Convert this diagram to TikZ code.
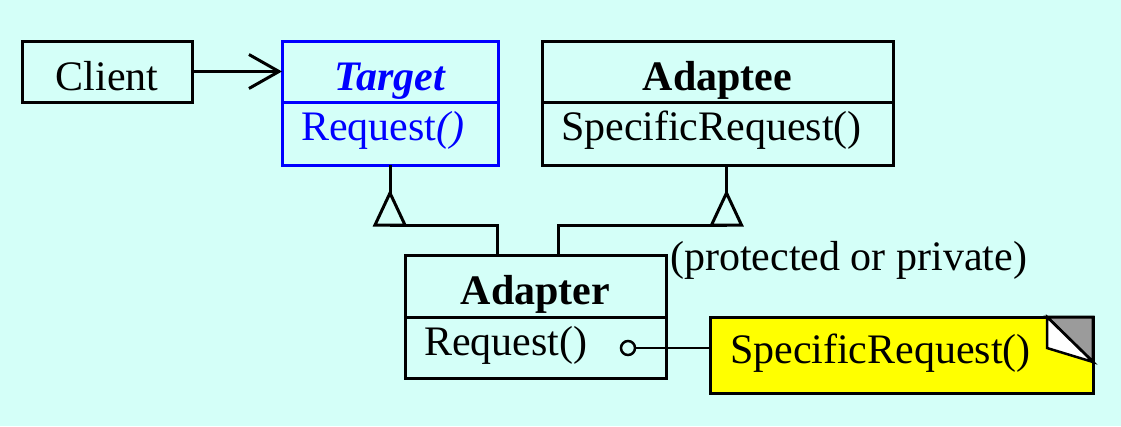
\documentclass[tikz,border=0pt]{standalone}
\usepackage{fontspec}
\setmainfont{Liberation Serif}
\usetikzlibrary{positioning, arrows.meta}
\definecolor{bgCol}{RGB}{212, 255, 248}
\definecolor{noteCol}{RGB}{255, 255, 0}
\definecolor{foldCol}{RGB}{155, 155, 155}
\tikzset{myBox/.style={draw, line width=3pt, inner sep=0pt, outer sep=0pt, font=\fontsize{42}{50}\selectfont}}
\tikzset{myClassName/.style={myBox, text height=49pt, text depth=12pt}}
\tikzset{myClassOp/.style={myBox, text height=38pt, text depth=25pt, inner xsep=19pt, align=left}}
\tikzset{myLink/.style={line width=3pt, color=black}}

\begin{document}
\begin{tikzpicture}[x=1pt, y=-1pt]
		\useasboundingbox (0,0) rectangle (1121,426);
		\fill[bgCol] (0,0) rectangle (1121,426);
		% classes
		\node[myClassName, minimum width=170pt] (client) at (107,71.5) {Client};
		\node[myClassName, blue, minimum width=216pt] (target) at (390,71.5) {\textbf{\textit{Target}}};
		\node[myClassOp, blue, text width=178pt, below=0pt of target] (targetOp) {Request\textit{()}};
		\node[myClassName, minimum width=351pt] (adaptee) at (717.5,71.5) {\textbf{Adaptee}};
		\node[myClassOp, text width=313pt, below=0pt of adaptee] (adapteeOp) {SpecificRequest()};
		\node[myClassName, text depth=13pt, minimum width=261pt] (adapter) at (535.5,286) {\textbf{Adapter}};
		\node[myClassOp, text depth=23pt, text width=223pt, below=0pt of adapter] (adapterOp) {Request()};
		\node[anchor=base west, inner sep=0pt, font=\fontsize{42}{50}\selectfont] (access) at (670,270) {(protected or private)};
		
		\draw[myLink, -{Straight Barb[length=30pt, width=34pt]}] (client) -- (target);
		
		% inheritance
		\draw[myLink] (targetOp.south) -- ++(0,28) coordinate (leftTip);
		\draw[myLink] (leftTip) -- ++(-15,32) -- ++(30,0) -- cycle;
		\draw[myLink] (leftTip) ++(0,32) -| ([xshift=-38.5pt]adapter.north);
		\draw[myLink] ([xshift=9pt]adapteeOp.south) -- ++(0,28) coordinate (rightTip);
		\draw[myLink] (rightTip) -- ++(-15,32) -- ++(30,0) -- cycle;
		\draw[myLink] (rightTip) ++(0,32) -| ([xshift=22.5pt]adapter.north);
		
		% note
		\node[myClassOp, fill=noteCol, text height=46pt, text depth=30pt, text width=343pt, inner xsep=20pt] (note) at (901.5,355) {SpecificRequest()};
		\filldraw[myLink, fill=foldCol] ([xshift=-46pt]note.north east) -- (note.north east) -- ([yshift=-45pt]note.north east) -- cycle;
		\filldraw[myLink, line width=2.5pt, fill=white] ([xshift=-46pt]note.north east) -- ([xshift=-46pt, yshift=-31pt]note.north east) -- ([yshift=-45pt]note.north east) -- cycle;
		\node[circle, draw, line width=2.5pt, minimum size=14pt, inner sep=0pt] (dot) at (628,348) {};
		\draw[line width=1.5pt] (dot) -- (dot -| note.west);
		
	\end{tikzpicture}
\end{document}
